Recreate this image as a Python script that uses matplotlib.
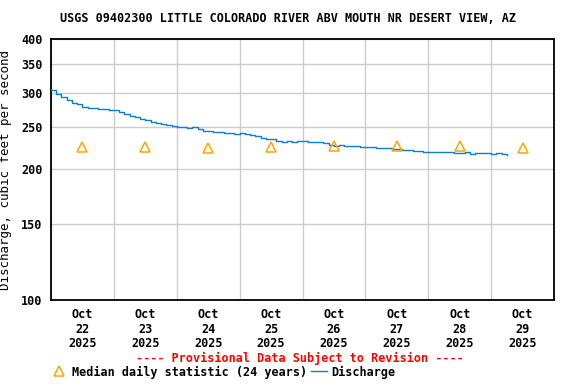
import datetime
import matplotlib

matplotlib.use("Agg")
import matplotlib.pyplot as plt
from matplotlib.lines import Line2D

# Discharge, cfs, read every 2 hours from Oct 22 00:00
discharge = [305, 299, 294, 289, 285, 283, 279, 277, 277, 276, 276, 274,
             275, 272, 268, 266, 265, 262, 260, 258, 256, 254, 253, 252,
             250, 250, 249, 250, 248, 246, 245, 244, 244, 243, 243, 242,
             243, 241, 240, 239, 237, 235, 235, 233, 232, 233, 232, 233,
             233, 232, 231, 231, 230, 228, 227, 228, 227, 226, 226, 225,
             225, 225, 224, 224, 224, 223, 223, 222, 222, 221, 221, 220,
             220, 220, 219, 220, 219, 218, 218, 219, 217, 218, 218, 218,
             217, 218, 217, 216]
median_days = [22, 23, 24, 25, 26, 27, 28, 29]
median_vals = [225, 225, 224, 225, 226, 226, 226, 224]
y_ticks = [100, 150, 200, 250, 300, 350, 400]

title = "USGS 09402300 LITTLE COLORADO RIVER ABV MOUTH NR DESERT VIEW, AZ"

start = datetime.datetime(2025, 10, 22)
times = [start + datetime.timedelta(hours=2 * i) for i in range(len(discharge))]
med_times = [datetime.datetime(2025, 10, d, 12) for d in median_days]

plt.rcParams['font.family'] = 'DejaVu Sans Mono'
plt.rcParams['font.weight'] = 'bold'
plt.rcParams['font.size'] = 8.5

fig = plt.figure(figsize=(5.76, 3.84), dpi=100)
ax = fig.add_axes([51 / 576, 1 - 300 / 384, 503 / 576, 261 / 384])

ax.plot(times, discharge, color='#0a7fd0', lw=1.0, drawstyle='steps-post', zorder=3)
ax.plot(med_times, median_vals, linestyle='none', marker='^', ms=7.5,
        markerfacecolor='none', markeredgecolor='#ffa500', mew=1.1, zorder=4)

ax.set_yscale('log')
ax.set_ylim(100, 400)
ax.set_yticks(y_ticks)
ax.set_yticklabels([str(t) for t in y_ticks])
ax.yaxis.set_minor_locator(matplotlib.ticker.NullLocator())

ax.set_xlim(start, datetime.datetime(2025, 10, 30))
ax.set_xticks([datetime.datetime(2025, 10, d) for d in range(22, 31)], minor=False)
ax.set_xticklabels([])
ax.set_xticks(med_times, minor=True)
ax.set_xticklabels(['Oct\n%d\n2025' % d for d in median_days], minor=True,
                   linespacing=1.15)
ax.tick_params(axis='both', which='both', length=0)
ax.tick_params(axis='x', which='minor', pad=6)
ax.tick_params(axis='y', pad=6)

ax.grid(True, which='major', color='#cccccc', lw=1.0)
ax.set_axisbelow(True)
for s in ax.spines.values():
    s.set_linewidth(1.3)

ax.set_ylabel('Discharge, cubic feet per second', fontsize=9)
ax.yaxis.set_label_coords(-0.077, 0.5)
fig.text(0.5, 1 - 19 / 384, title, ha='center', va='center', fontsize=8.5)
fig.text(0.52, 1 - 358 / 384, '---- Provisional Data Subject to Revision ----',
         ha='center', va='center', color='red', fontsize=8.5)

handles = [Line2D([], [], linestyle='none', marker='^', ms=7.5, markerfacecolor='none',
                  markeredgecolor='#ffa500', mew=1.1),
           Line2D([], [], color='#0a7fd0', lw=1.0)]
fig.legend(handles, ['Median daily statistic (24 years)', 'Discharge'], ncol=2,
           loc='center', bbox_to_anchor=(0.388, 1 - 372 / 384), frameon=False,
           handlelength=1.3, handletextpad=0.4, columnspacing=0.4, borderpad=0)

fig.savefig('out.png', dpi=100)
